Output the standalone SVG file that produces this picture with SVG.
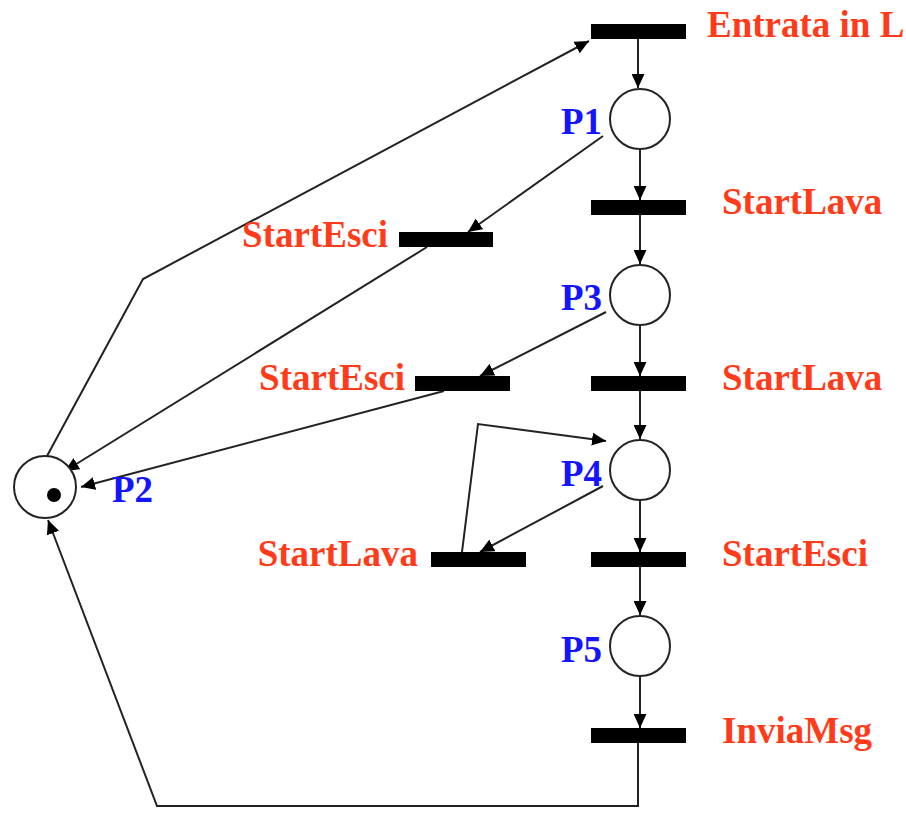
<svg xmlns="http://www.w3.org/2000/svg" width="906" height="816" viewBox="0 0 906 816">
<style>
.tr{fill:#000}
.pl{fill:#fff;stroke:#222;stroke-width:2}
.e{fill:none;stroke:#222;stroke-width:2}
.lt{font-family:"Liberation Serif",serif;font-weight:bold;font-size:37px;fill:#FF3B1A}
.lp{font-family:"Liberation Serif",serif;font-weight:bold;font-size:37px;fill:#1414FF}
</style>
<defs>
<marker id="a" markerUnits="userSpaceOnUse" markerWidth="15" markerHeight="13" refX="14" refY="6.5" orient="auto">
<path d="M0,0 L14,6.5 L0,13 Z" fill="#000"/>
</marker>
</defs>
<rect width="906" height="816" fill="#fff"/>
<g id="connectors">
<line class="e" x1="638" y1="39" x2="638" y2="88" marker-end="url(#a)"/>
<line class="e" x1="640" y1="150" x2="640" y2="200" marker-end="url(#a)"/>
<line class="e" x1="640" y1="215" x2="640" y2="264" marker-end="url(#a)"/>
<line class="e" x1="640" y1="326" x2="640" y2="376" marker-end="url(#a)"/>
<line class="e" x1="640" y1="391" x2="640" y2="439" marker-end="url(#a)"/>
<line class="e" x1="640" y1="501" x2="640" y2="552" marker-end="url(#a)"/>
<line class="e" x1="640" y1="567" x2="640" y2="615" marker-end="url(#a)"/>
<line class="e" x1="640" y1="677" x2="640" y2="728" marker-end="url(#a)"/>
<polyline class="e" points="638,743 638,806 157,806 48,520" marker-end="url(#a)"/>
<line class="e" x1="603" y1="136" x2="468" y2="232" marker-end="url(#a)"/>
<line class="e" x1="427" y1="247" x2="65" y2="471" marker-end="url(#a)"/>
<line class="e" x1="606" y1="312" x2="480" y2="376" marker-end="url(#a)"/>
<line class="e" x1="444" y1="391" x2="81" y2="487" marker-end="url(#a)"/>
<polyline class="e" points="47,456 143,279 589,41" marker-end="url(#a)"/>
<line class="e" x1="603" y1="486" x2="480" y2="552" marker-end="url(#a)"/>
<polyline class="e" points="462,552 478,424 606,441" marker-end="url(#a)"/>
</g>
<g id="T_EntrataInL"><rect class="tr" x="591" y="24" width="95" height="15"/><text class="lt" x="707" y="37">Entrata in L</text></g>
<g id="P1"><circle class="pl" cx="640" cy="119" r="30"/><text class="lp" x="561" y="134">P1</text></g>
<g id="T_StartLava1"><rect class="tr" x="591" y="200" width="95" height="15"/><text class="lt" x="722" y="214">StartLava</text></g>
<g id="P3"><circle class="pl" cx="640" cy="295" r="30"/><text class="lp" x="561" y="310">P3</text></g>
<g id="T_StartLava2"><rect class="tr" x="591" y="376" width="95" height="15"/><text class="lt" x="722" y="390">StartLava</text></g>
<g id="P4"><circle class="pl" cx="640" cy="470" r="30"/><text class="lp" x="561" y="486">P4</text></g>
<g id="T_StartEsci3"><rect class="tr" x="591" y="552" width="95" height="15"/><text class="lt" x="722" y="566">StartEsci</text></g>
<g id="P5"><circle class="pl" cx="640" cy="646" r="30"/><text class="lp" x="561" y="662">P5</text></g>
<g id="T_InviaMsg"><rect class="tr" x="591" y="728" width="95" height="15"/><text class="lt" x="722" y="743">InviaMsg</text></g>
<g id="T_StartEsciA"><rect class="tr" x="399" y="232" width="94" height="15"/><text class="lt" x="388" y="247" text-anchor="end">StartEsci</text></g>
<g id="T_StartEsciB"><rect class="tr" x="415" y="376" width="95" height="15"/><text class="lt" x="405" y="390" text-anchor="end">StartEsci</text></g>
<g id="T_StartLavaC"><rect class="tr" x="431" y="552" width="95" height="15"/><text class="lt" x="418" y="566" text-anchor="end">StartLava</text></g>
<g id="P2"><circle class="pl" cx="45" cy="487" r="31"/><circle cx="54" cy="495" r="7" fill="#000"/><text class="lp" x="112" y="502">P2</text></g>
</svg>
